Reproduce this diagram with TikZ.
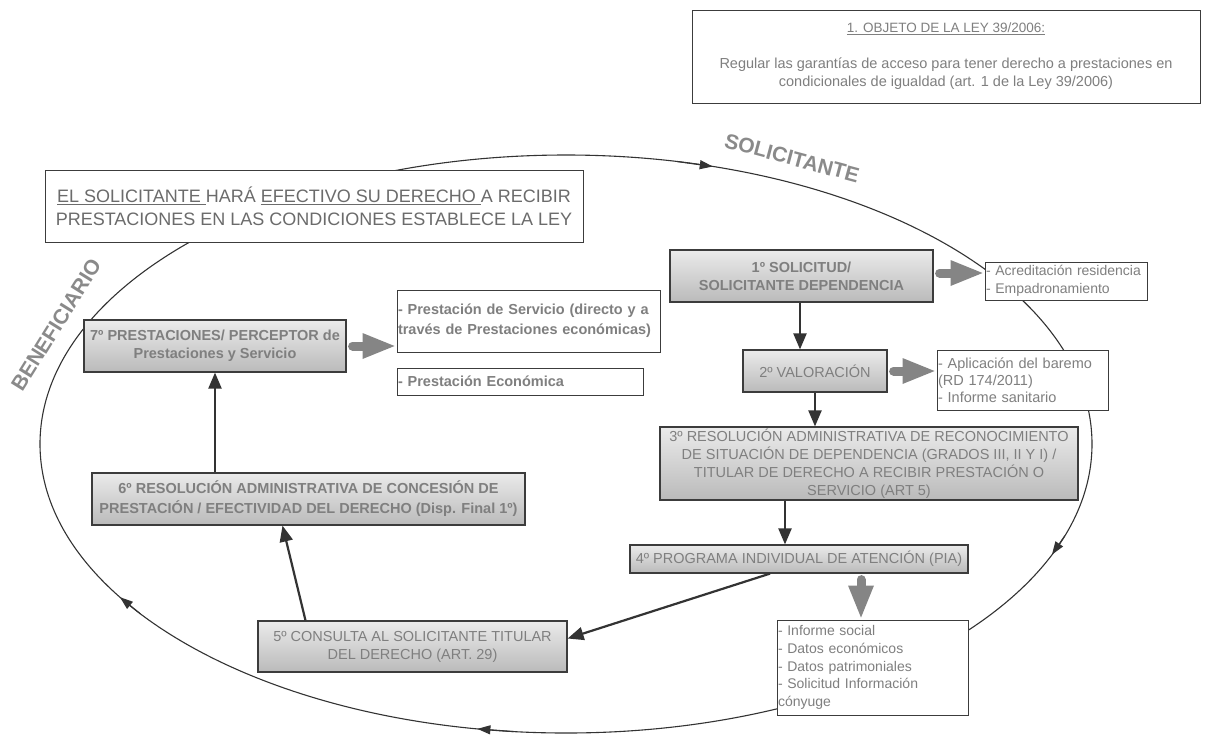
\documentclass[tikz,border=0pt]{standalone}
\usepackage{fontspec}
\setmainfont{Liberation Sans}
\usetikzlibrary{arrows.meta,shadings}
\definecolor{txtgray}{HTML}{7F7F7F}
\definecolor{linegray}{HTML}{333333}
\definecolor{fatgray}{HTML}{858585}
\definecolor{bordergray}{HTML}{3C3C3C}
\definecolor{lblgray}{HTML}{8A8A8A}
\hyphenpenalty=10000
\exhyphenpenalty=10000
\begin{document}
\begin{tikzpicture}[x=1pt,y=-1pt,
  gbox/.style={draw=bordergray, line width=1.2pt, top color=black!8, bottom color=black!27,
    text=txtgray, inner sep=0pt, align=center, font=\fontsize{14.5}{18}\selectfont},
  wbox/.style={draw=bordergray, line width=1pt, fill=white, text=txtgray, inner xsep=1pt, inner ysep=0pt,
    align=left, font=\fontsize{14.5}{17.5}\selectfont},
  darr/.style={draw=linegray, line width=2.2pt, -{Triangle[length=16pt,width=13pt]}},
  farr/.style={draw=fatgray, line width=9pt, line cap=round, -{Triangle[length=34pt,width=23pt]}},
  ell/.style={draw=linegray, line width=1.1pt},
  ellarr/.style={draw=linegray, line width=1.1pt, -{Triangle[length=13pt,width=9pt]}},
  lbl/.style={text=lblgray, font=\fontsize{21}{25}\selectfont\bfseries, inner sep=0pt}
]
\useasboundingbox (0,0) rectangle (1212,748);

% cycle ellipse
\draw[ell] (566,444) ellipse [x radius=526, y radius=289];
\foreach \t in {286.2, 22.5, 99.7, 148} {
  \draw[ellarr] ({566+526*cos(\t-4)},{444+289*sin(\t-4)}) -- ({566+526*cos(\t)},{444+289*sin(\t)});
}

% labels
\node[lbl, rotate=-15] (lsol) at (792,158) {SOLICITANTE};
\node[lbl, rotate=58] (lben) at (56,325) {BENEFICIARIO};

% top box
\node[draw=bordergray, line width=1pt, fill=white, text=txtgray, inner sep=0pt, align=center,
  minimum width=508pt, minimum height=93pt, font=\fontsize{14.5}{18}\selectfont] (obj) at (946,56.5)
  {{\fontsize{13.5}{18}\selectfont\underline{1. OBJETO DE LA LEY 39/2006:}}\\[18pt]
   Regular las garantías de acceso para tener derecho a prestaciones en\\
   condicionales de igualdad (art. 1 de la Ley 39/2006)};

% left statement box
\node[draw=bordergray, line width=1pt, fill=white, text=black!58, inner sep=0pt, align=center,
  minimum width=538pt, minimum height=72pt, font=\fontsize{18}{23}\selectfont] (stmt) at (314,206)
  {\underline{EL SOLICITANTE }HARÁ \underline{EFECTIVO SU DERECHO }A RECIBIR\\
   PRESTACIONES EN LAS CONDICIONES ESTABLECE LA LEY};

% process boxes
\node[gbox, minimum width=263pt, minimum height=52pt, font=\fontsize{14.5}{18}\selectfont\bfseries] (n1) at (801.5,276)
  {1º SOLICITUD/\\SOLICITANTE DEPENDENCIA};
\node[gbox, minimum width=144pt, minimum height=42pt] (n2) at (815,371) {2º VALORACIÓN};
\node[gbox, minimum width=418pt, minimum height=73pt] (n3) at (869,463.5)
  {3º RESOLUCIÓN ADMINISTRATIVA DE RECONOCIMIENTO\\
   DE SITUACIÓN DE DEPENDENCIA (GRADOS III, II Y I) /\\
   TITULAR DE DERECHO A RECIBIR PRESTACIÓN O\\
   SERVICIO (ART 5)};
\node[gbox, minimum width=338pt, minimum height=28pt] (n4) at (799,559)
  {4º PROGRAMA INDIVIDUAL DE ATENCIÓN (PIA)};
\node[gbox, minimum width=309pt, minimum height=51pt] (n5) at (412.5,646.5)
  {5º CONSULTA AL SOLICITANTE TITULAR\\DEL DERECHO (ART. 29)};
\node[gbox, minimum width=433pt, minimum height=52pt, font=\fontsize{14.5}{20}\selectfont\bfseries] (n6) at (308.5,499)
  {6º RESOLUCIÓN ADMINISTRATIVA DE CONCESIÓN DE\\
   PRESTACIÓN / EFECTIVIDAD DEL DERECHO (Disp. Final 1º)};
\node[gbox, minimum width=262pt, minimum height=52pt, font=\fontsize{14.5}{18}\selectfont\bfseries] (n7) at (215,346)
  {7º PRESTACIONES/ PERCEPTOR de\\Prestaciones y Servicio};

% detail boxes
\node[wbox, text width=160pt, minimum height=38pt, font=\fontsize{14}{18}\selectfont] (acred) at (1066,281)
  {- Acreditación residencia\\- Empadronamiento};
\node[wbox, text width=169pt, minimum height=60pt, font=\fontsize{14.5}{17}\selectfont] (aplic) at (1022.5,380)
  {- Aplicación del baremo\\(RD 174/2011)\\- Informe sanitario};
\node[wbox, text width=261pt, minimum height=62pt, font=\fontsize{14.5}{20}\selectfont\bfseries] (pserv) at (528.5,321)
  {- Prestación de Servicio (directo y a\\través de Prestaciones económicas)};
\node[wbox, text width=244pt, minimum height=27pt, font=\fontsize{14.5}{18}\selectfont\bfseries] (peco) at (520,381.5)
  {- Prestación Económica};
\node[wbox, text width=189pt, minimum height=95pt, font=\fontsize{14}{17.6}\selectfont] (inf) at (872.5,667.5)
  {- Informe social\\- Datos económicos\\- Datos patrimoniales\\- Solicitud Información\\cónyuge};

% dark connectors
\draw[darr] ([xshift=-1.5pt]n1.south) -- ([xshift=-1.5pt]n1.south |- n2.north);
\draw[darr] (n2.south) -- (n2.south |- n3.north);
\draw[darr] ([xshift=-84pt]n3.south) -- ([xshift=-84pt]n3.south |- n4.north);
\draw[darr] ([xshift=-29pt]n4.south) -- ([yshift=8pt]n5.east);
\draw[darr] ([xshift=-107pt]n5.north) -- ([xshift=-26pt]n6.south);
\draw[darr] (n6.north -| n7.south) -- (n7.south);

% grey block arrows
\draw[farr] ([shift={(6pt,3pt)}]n1.east) -- ([yshift=3pt]n1.east -| acred.west);
\draw[farr] ([xshift=6pt]n2.east) -- (n2.east -| aplic.west);
\draw[farr] ([xshift=6pt]n7.east) -- (n7.east -| pserv.west);
\draw[farr] ([shift={(62pt,-6pt)}]n4.south) -- ([xshift=62pt]n4.south |- inf.north);
\end{tikzpicture}
\end{document}
